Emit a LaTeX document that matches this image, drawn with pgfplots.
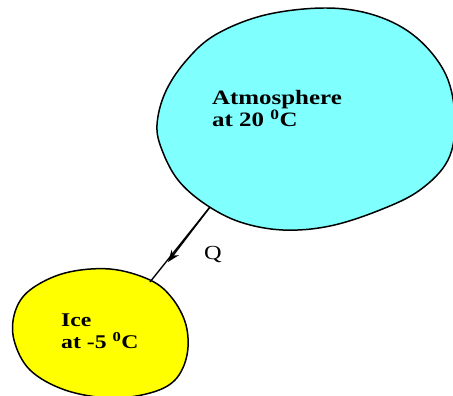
\documentclass[border=0pt]{standalone}
\usepackage{pgfplots}
\pgfplotsset{compat=1.18}
\usepackage{fontspec}
\setmainfont{Liberation Serif}
\usetikzlibrary{arrows.meta}
\definecolor{atm}{RGB}{128,255,255}
\definecolor{ice}{RGB}{255,255,0}
\newcommand{\wide}[1]{\scalebox{1.22}[1]{#1}}
\begin{document}
\begin{tikzpicture}
\begin{axis}[
  width=453bp, height=396bp, scale only axis,
  xmin=0, xmax=453, ymin=0, ymax=396, y dir=reverse,
  hide axis, clip=true]
% Atmosphere blob
\addplot[draw=black, line width=1.5pt, fill=atm, smooth cycle, tension=0.6] coordinates {
(327,8) (377,16) (417,38) (446,75) (455,120) (448,160) (420,190) (380,210)
(330,226) (283,230) (240,222) (205,204) (178,180) (162,150) (157,125)
(165,93) (185,62) (215,35) (265,15)};
% Ice blob
\addplot[draw=black, line width=1.5pt, fill=ice, smooth cycle, tension=0.6] coordinates {
(110,269) (150,280) (172,298) (186,325) (187,355) (175,380) (150,393) (110,398)
(65,390) (30,370) (14,340) (15,312) (30,290) (65,273)};
% Heat flow line and arrowhead
\addplot[black, line width=1.4pt] coordinates {(210,207) (150,282)};
\addplot[black, line width=1.4pt, -{Stealth[length=12pt,width=9pt]}] coordinates {(210,207) (168,262)};
% Labels
\node[anchor=north west, inner sep=0pt, align=left, font=\bfseries\fontsize{20.5}{20.5}\selectfont] at (axis cs:212,90) {\wide{Atmosphere}\\\wide{at 20 \textsuperscript{0}C}};
\node[anchor=north west, inner sep=0pt, align=left, font=\bfseries\fontsize{19.5}{22}\selectfont] at (axis cs:61,314) {\wide{Ice}\\\wide{at -5 \textsuperscript{0}C}};
\node[anchor=base west, inner sep=0pt, font=\fontsize{20}{22}\selectfont] at (axis cs:204,259) {\wide{Q}};
\end{axis}
\pgfresetboundingbox
\path (current axis.south west) rectangle (current axis.north east);
\end{tikzpicture}
\end{document}
